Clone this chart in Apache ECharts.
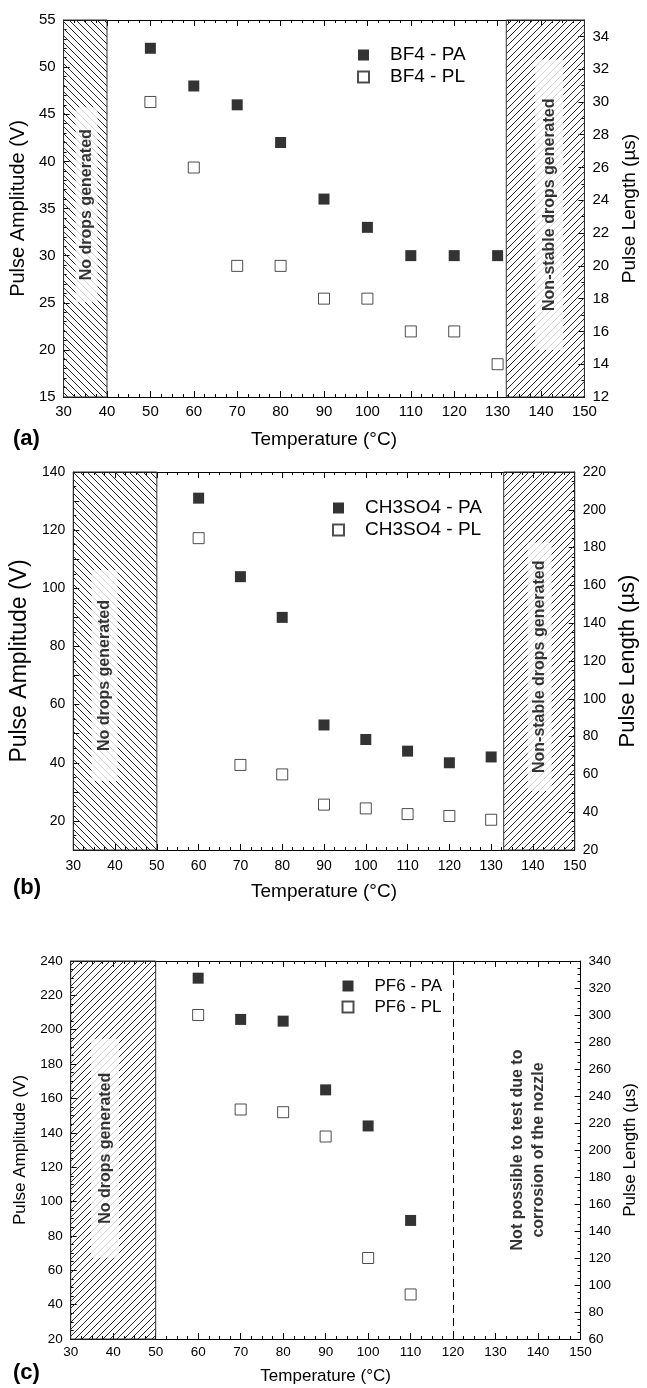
<!DOCTYPE html>
<html><head><meta charset="utf-8">
<script src="https://cdn.jsdelivr.net/npm/echarts@6/dist/echarts.min.js"></script>
<style>html,body{margin:0;padding:0;background:#fff}#c{width:647px;height:1388px}</style>
</head><body><div id="c"></div><script>
// ---- data ----
const tempA = [50, 60, 70, 80, 90, 100, 110, 120, 130];
const paA   = [52, 48, 46, 42, 36, 33, 30, 30, 30];
const plA   = [30, 26, 20, 20, 18, 18, 16, 16, 14];
const tempB = [60, 70, 80, 90, 100, 110, 120, 130];
const paB   = [131, 104, 90, 53, 48, 44, 40, 42];
const plB   = [185, 65, 60, 44, 42, 39, 38, 36];
const tempC = [60, 70, 80, 90, 100, 110];
const paC   = [230, 206, 205, 165, 144, 89];
const plC   = [300, 230, 228, 210, 120, 93];
const namesA = ['BF4 - PA', 'BF4 - PL'];
const namesB = ['CH3SO4 - PA', 'CH3SO4 - PL'];
const namesC = ['PF6 - PA', 'PF6 - PL'];
const panelLabels = ['(a)', '(b)', '(c)'];
const xName = 'Temperature (°C)';
const yLeftName = 'Pulse Amplitude (V)';
const yRightName = 'Pulse Length (µs)';
const noDrops = 'No drops generated';
const nonStable = 'Non-stable drops generated';
const notPossible = 'Not possible to test due to\ncorrosion of the nozzle';

// ---- layout ----
const FONT = 'Liberation Sans';
function hatch(dir) {
  const s = 7, cv = document.createElement('canvas');
  cv.width = s; cv.height = s;
  const g = cv.getContext('2d');
  g.strokeStyle = '#2a2a2a'; g.lineWidth = 1;
  g.beginPath();
  if (dir === 'back') {
    g.moveTo(0, 0); g.lineTo(s, s);
    g.moveTo(-1, s - 1); g.lineTo(1, s + 1);
    g.moveTo(s - 1, -1); g.lineTo(s + 1, 1);
  } else {
    g.moveTo(0, s); g.lineTo(s, 0);
    g.moveTo(-1, 1); g.lineTo(1, -1);
    g.moveTo(s - 1, s + 1); g.lineTo(s + 1, s - 1);
  }
  g.stroke();
  return { image: cv, repeat: 'repeat' };
}

const panels = [
  { temps: tempA, pa: paA, pl: plA, names: namesA,
    grid: { left: 60.5, right: 51, top: 20, height: 377 },
    yl: { min: 15, max: 55, interval: 5, minor: 5 }, yr: { min: 12, max: 35, interval: 2, minor: 2 },
    tick: 15, xNameSize: 19, xNameGap: 33, xMargin: 7,
    ylName: 20, ylGap: 30, yrName: 19, yrGap: 32,
    legend: { left: 357, top: 45, size: 19, gap: 2 },
    hatchAreas: [[30, 40, 'back'], [132, 150, 'fwd']],
    texts: [ { x: 35.3, y: 35.4, t: noDrops, pad: [2, 22, 2, 22] },
             { x: 141.9, y: 35.4, t: nonStable, pad: [5, 39, 5, 39] } ],
    label: { left: 13, top: 428 } },
  { temps: tempB, pa: paB, pl: plB, names: namesB,
    grid: { left: 70, right: 57, top: 472, height: 378 },
    yl: { min: 10, max: 140, interval: 10, minor: 2, every: 20 }, yr: { min: 20, max: 220, interval: 20, minor: 4 },
    tick: 14, xNameSize: 19, xNameGap: 32, xMargin: 9,
    ylName: 23, ylGap: 38, yrName: 22, yrGap: 40,
    legend: { left: 332, top: 498, size: 19, gap: 2 },
    hatchAreas: [[30, 50, 'back'], [133, 150, 'fwd']],
    texts: [ { x: 37.5, y: 70, t: noDrops, pad: [4, 30, 4, 30] },
             { x: 141.6, y: 73, t: nonStable, pad: [3, 18, 3, 18] } ],
    label: { left: 13, top: 877 } },
  { temps: tempC, pa: paC, pl: plC, names: namesC,
    grid: { left: 70.7, right: 59.7, top: 961, height: 378 },
    yl: { min: 20, max: 240, interval: 20, minor: 4 }, yr: { min: 60, max: 340, interval: 20, minor: 4 },
    tick: 13.5, xNameSize: 17, xNameGap: 29, xMargin: 6,
    ylName: 17, ylGap: 34, yrName: 17, yrGap: 39,
    legend: { left: 341.5, top: 976, size: 17, gap: 1 },
    hatchAreas: [[30, 50, 'fwd']],
    dashAt: 120,
    texts: [ { x: 38.1, y: 131, t: noDrops, pad: [5, 34, 5, 34] },
             { x: 137.6, y: 130, t: notPossible, pad: 0, bg: 'transparent', lh: 21 } ],
    label: { left: 13, top: 1362 } }
];

const option = { animation: false, backgroundColor: '#fff', textStyle: { fontFamily: FONT },
  grid: [], xAxis: [], yAxis: [], series: [], legend: [], graphic: [] };

const axisLine = { show: true, lineStyle: { color: '#000', width: 1 } };
panels.forEach((p, i) => {
  option.grid.push(p.grid);
  const xBase = { gridIndex: i, type: 'value', min: 30, max: 150, interval: 10,
    axisLine, splitLine: { show: false },
    axisTick: { show: true, inside: true, length: 6, lineStyle: { color: '#000' } },
    minorTick: { show: true, splitNumber: 4, length: 3, lineStyle: { color: '#000' } } };
  option.xAxis.push(Object.assign({}, xBase, { position: 'bottom',
    axisLabel: { fontSize: p.tick, color: '#000', margin: p.xMargin, fontFamily: FONT },
    name: xName, nameLocation: 'middle', nameGap: p.xNameGap,
    nameTextStyle: { fontSize: p.xNameSize, color: '#000', fontFamily: FONT } }));
  option.xAxis.push(Object.assign({}, xBase, { position: 'top', axisLabel: { show: false } }));
  const yAxisDef = (r, pos, nameSize, gap) => ({ gridIndex: i, type: 'value', position: pos,
    min: r.min, max: r.max, interval: r.interval, axisLine, splitLine: { show: false },
    axisTick: { show: true, inside: true, length: 6, lineStyle: { color: '#000' } },
    minorTick: { show: true, splitNumber: r.minor, length: 3, lineStyle: { color: '#000' } },
    axisLabel: { fontSize: p.tick, color: '#000', margin: 8, fontFamily: FONT, showMaxLabel: r.max % r.interval === 0,
      formatter: v => (r.every && v % r.every !== 0) ? '' : String(v) },
    name: pos === 'left' ? yLeftName : yRightName, nameLocation: 'middle', nameGap: gap,
    nameTextStyle: { fontSize: nameSize, color: '#000', fontFamily: FONT } });
  option.yAxis.push(yAxisDef(p.yl, 'left', p.ylName, p.ylGap));
  option.yAxis.push(yAxisDef(p.yr, 'right', p.yrName, p.yrGap));

  // background hatched regions (and dashed limit)
  const bg = { type: 'scatter', name: 'bg' + i, xAxisIndex: 2 * i, yAxisIndex: 2 * i, data: [], z: 1, silent: true,
    markArea: { silent: true, data: p.hatchAreas.map(h => [
      { xAxis: h[0], itemStyle: { color: hatch(h[2]), borderColor: '#333', borderWidth: 1 } },
      { xAxis: h[1] } ]) } };
  if (p.dashAt) bg.markLine = { silent: true, symbol: 'none', label: { show: false },
    lineStyle: { type: [8, 5], color: '#000', width: 1 }, data: [{ xAxis: p.dashAt }] };
  option.series.push(bg);

  // annotation texts
  p.texts.forEach((t, k) => {
    option.series.push({ type: 'scatter', name: 'txt' + i + k, xAxisIndex: 2 * i, yAxisIndex: 2 * i, z: 2, silent: true,
      symbolSize: 1, itemStyle: { color: 'rgba(0,0,0,0)' },
      data: [[t.x, t.y]],
      label: { show: true, position: 'inside', rotate: 90, formatter: t.t, fontSize: 16, fontWeight: 'bold',
        color: '#000', fontFamily: FONT, backgroundColor: t.bg || '#fff', padding: t.pad,
        lineHeight: t.lh || 18, align: 'center', verticalAlign: 'middle' } });
  });

  option.series.push({ type: 'scatter', name: p.names[0], xAxisIndex: 2 * i, yAxisIndex: 2 * i, z: 3,
    symbol: 'rect', symbolSize: 11, itemStyle: { color: '#000' },
    data: p.temps.map((t, k) => [t, p.pa[k]]) });
  option.series.push({ type: 'scatter', name: p.names[1], xAxisIndex: 2 * i, yAxisIndex: 2 * i + 1, z: 3,
    symbol: 'rect', symbolSize: 11, itemStyle: { color: '#fff', borderColor: '#222', borderWidth: 1 },
    data: p.temps.map((t, k) => [t, p.pl[k]]) });

  option.legend.push({ data: p.names, orient: 'vertical', left: p.legend.left, top: p.legend.top,
    itemWidth: 11, itemHeight: 11, itemGap: p.legend.gap, padding: 0, selectedMode: false,
    textStyle: { fontSize: p.legend.size, color: '#000', fontFamily: FONT, lineHeight: 20, padding: [0, 0, 0, 16] } });

  option.graphic.push({ type: 'text', left: p.label.left, top: p.label.top,
    style: { text: panelLabels[i], font: 'bold 22px "' + FONT + '"', fill: '#000' } });
});

const chart = echarts.init(document.getElementById('c'), null, { renderer: 'canvas' });
chart.setOption(option);
</script></body></html>
